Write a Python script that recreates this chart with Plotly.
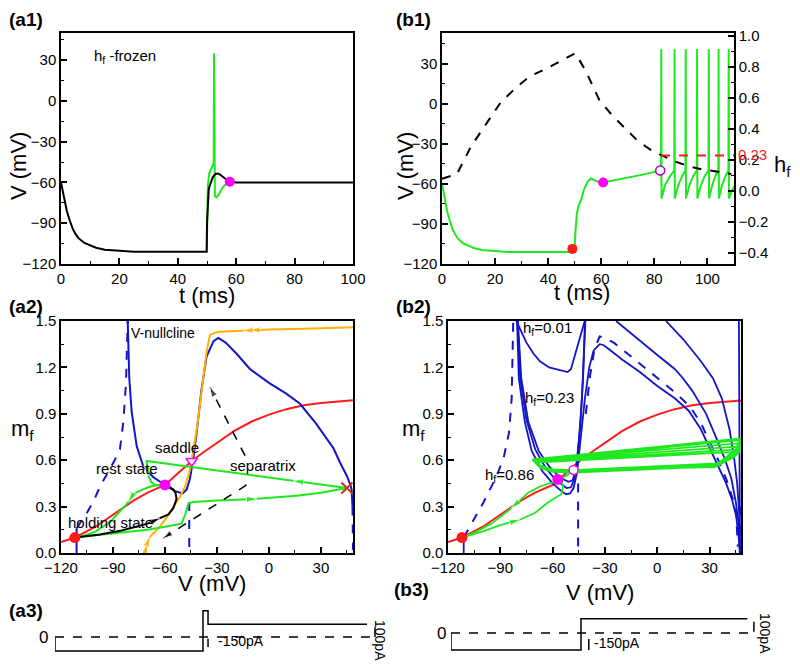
import plotly.graph_objects as go

# ---------------- data ----------------
# (a1) hf-frozen, V (mV) vs t (ms)
a1_t_black = [0, 1, 2, 3, 4, 5, 6, 8, 10, 12, 15, 20, 25, 30, 40, 49.9, 50, 50.3, 50.6, 51, 52,
              53, 54, 55, 56, 57, 58, 60, 65, 100]
a1_v_black = [-60, -72, -81, -88, -94, -98, -101, -104.5, -106.5, -108, -109.5, -110.5, -111, -111,
              -111, -111, -90, -70, -65, -62, -56, -53.5, -53.5, -55, -57, -58.5, -59.5, -60, -60, -60]
a1_t_green = [49.9, 50, 50.3, 50.8, 51.5, 52, 52.3, 52.4, 52.5, 52.7, 53.2, 54, 55, 56, 57, 58]
a1_v_green = [-111, -90, -62, -53, -50, -48, -46, 35, -20, -70, -71, -69, -65, -62, -60.5, -60]
a1_rest = (57.8, -59.5)

# (b1) V (mV) and hf vs t (ms)
b1_t = [0, 1, 2, 3, 4, 5, 6, 8, 10, 12, 15, 20, 25, 30, 40, 49.9, 50.3, 50.8, 51.5, 52.4, 53.5,
        54.9, 56.1, 57.5, 58.6, 60.7, 66, 71.7, 77, 82.2,
        82.5, 82.6, 82.7, 84, 86, 87.5,
        87.6, 87.7, 89, 90.5, 91.7,
        91.8, 91.9, 93.2, 94.6, 96.0,
        96.1, 96.2, 97.5, 99, 100.4,
        100.5, 100.6, 101.8, 103, 104.1,
        104.2, 104.3, 105.5, 106.8, 107.9,
        108.0, 108.1, 109, 110]
b1_v = [-60, -72, -81, -88, -94, -98, -101, -104.5, -106.5, -108, -109.5, -110.5, -111, -111, -111,
        -111, -95, -82, -76, -72, -64, -58.3, -56, -57, -58.3, -59, -57, -54.5, -52.5, -50,
        -50, 41, -71, -61, -54, -50,
        41, -71, -61, -54, -50,
        41, -71, -61, -54, -50,
        41, -71, -61, -54, -50,
        41, -71, -61, -54, -50,
        41, -71, -61, -54, -50,
        41, -71, -66, -62]
b1_t_hf = [0, 5.6, 11, 17.4, 22, 28, 33, 39.3, 46.7, 50.2, 54, 59.2, 64, 69.2, 74, 79.2, 84, 88,
           93, 98, 104, 109]
b1_hf = [0.08, 0.11, 0.29, 0.45, 0.57, 0.67, 0.74, 0.79, 0.86, 0.89, 0.78, 0.59, 0.49, 0.40, 0.32,
         0.26, 0.22, 0.19, 0.16, 0.14, 0.125, 0.11]
b1_hf_thr_t = [82.5, 110]
b1_hf_thr = 0.23
b1_hold = (49.1, -108.7)
b1_rest = (60.7, -59)
b1_onset = (82.2, -50)

# (a2) phase plane, mf vs V (mV)
a2_vnull_v = [-81.5, -80.6, -79.2, -76.3, -72.5, -66.7, -60, -54.2, -49.8, -47.5, -45.6, -43.5,
              -41.5, -39, -36, -32, -29.2, -25, -18, -11, 0, 10, 17.9, 27, 33.3, 37.1, 41, 44.9,
              47, 47.7, 48.2]
a2_vnull_m = [1.5, 1.13, 0.91, 0.69, 0.56, 0.49, 0.44, 0.40, 0.385, 0.41, 0.48, 0.62, 0.8, 1.05,
              1.27, 1.37, 1.39, 1.36, 1.28, 1.19, 1.10, 1.03, 0.965, 0.84, 0.74, 0.68, 0.585, 0.5,
              0.44, 0.41, 0.3]
a2_vnull_dl_v = [-111, -108, -105, -101, -97.5, -93, -89, -86, -84, -82.5, -81.5]
a2_vnull_dl_m = [0.16, 0.21, 0.26, 0.34, 0.43, 0.52, 0.6, 0.67, 0.85, 1.1, 1.5]
a2_vnull_sl_v = [-111, -111]
a2_vnull_sl_m = [0, 0.16]
a2_vnull_dm_v = [-46, -46]
a2_vnull_dm_m = [0.33, 0.0]
a2_vnull_dr_v = [48.2, 48.4, 48.5]
a2_vnull_dr_m = [0.3, 0.15, 0.02]

mnull_v = [-120, -112, -100, -88, -78, -70, -60, -52, -44, -38, -30, -20, -10, 0, 10, 20, 30, 40,
           48.5]
mnull_m = [0.07, 0.1, 0.17, 0.26, 0.34, 0.39, 0.44, 0.52, 0.6, 0.65, 0.71, 0.79, 0.85, 0.895,
           0.93, 0.955, 0.97, 0.98, 0.987]

a2_sep_v = [-71.5, -70.3, -68.6, -62.9, -59, -55.2, -51.5, -48.4, -46, -44.6, -43, -41.7, -39.8,
            -37.9, -36, -34, -31, -28.3, -20, -15, -11, 0, 20, 48.5]
a2_sep_m = [0, 0.06, 0.105, 0.17, 0.23, 0.30, 0.36, 0.43, 0.52, 0.595, 0.70, 0.80, 0.96, 1.13,
            1.30, 1.41, 1.425, 1.43, 1.435, 1.437, 1.44, 1.445, 1.45, 1.46]

a2_g1_v = [-112, -100, -85, -70, -60, -52, -50.4, -48, -46.5, -43.7, -30, -7, 16, 30, 44.9]
a2_g1_m = [0.1, 0.115, 0.13, 0.15, 0.17, 0.185, 0.19, 0.26, 0.32, 0.33, 0.34, 0.35, 0.37, 0.39, 0.42]
a2_g2_v = [44.9, 14, -20, -50, -70.6, -69.6, -68, -65.8, -62, -60]
a2_g2_m = [0.42, 0.467, 0.52, 0.565, 0.595, 0.50, 0.46, 0.44, 0.435, 0.44]
a2_g3_v = [-60, -64, -68.6, -73, -78.3, -81, -86, -91.7, -100, -107, -112]
a2_g3_m = [0.44, 0.44, 0.43, 0.41, 0.38, 0.33, 0.27, 0.2, 0.14, 0.11, 0.1]
a2_blk_v = [-112, -97.5, -85, -78, -70, -62.9, -58, -55.2, -53.3, -54, -55.2, -58, -60]
a2_blk_m = [0.1, 0.12, 0.145, 0.165, 0.19, 0.225, 0.25, 0.29, 0.35, 0.39, 0.41, 0.43, 0.44]
a2_dash_arrow1_v = [-13.8, -34]
a2_dash_arrow1_m = [0.63, 1.07]
a2_dash_arrow2_v = [-12.9, -61]
a2_dash_arrow2_m = [0.44, 0.096]
a2_hold = (-112, 0.1)
a2_rest = (-60, 0.44)
a2_saddle = (-44.6, 0.595)
a2_unstable = (45, 0.42)

# (b2) nullclines for several hf, mf vs V (mV)
b2_dash_v = [-41, -38.5, -36, -33, -30, -25, -15, 0, 10, 18.5, 25, 30, 35, 39.5, 43, 45.2, 46.2]
b2_dash_m = [0.9, 1.15, 1.32, 1.40, 1.39, 1.36, 1.27, 1.13, 1.04, 0.95, 0.84, 0.72, 0.6, 0.48,
             0.36, 0.26, 0.04]
b2_h086_v = [-80.4, -79.4, -76, -72, -66, -60, -55, -52.3, -50, -48, -46, -44, -41.5, -39, -36.5,
             -33, -31, -28, -20, -10, 0, 10, 18, 25, 30, 35, 39.5, 43, 45.2, 46.5, 47.5]
b2_h086_m = [1.5, 1.13, 0.85, 0.66, 0.53, 0.45, 0.40, 0.38, 0.385, 0.42, 0.52, 0.72, 1.0, 1.2,
             1.31, 1.35, 1.345, 1.32, 1.25, 1.17, 1.08, 1.0, 0.92, 0.8, 0.68, 0.56, 0.45, 0.34,
             0.24, 0.12, 0.0]
b2_hmid_v = [-80.2, -78.6, -75, -70, -64, -58, -52, -49.5, -47.5, -45.8, -44, -42.5, -41.5]
b2_hmid_m = [1.5, 1.13, 0.86, 0.67, 0.55, 0.47, 0.42, 0.425, 0.48, 0.62, 0.85, 1.15, 1.5]
b2_hmid_r_v = [46.8, 47, 47.2, 47.4]
b2_hmid_r_m = [1.5, 1.0, 0.5, 0.0]
b2_h023_v = [-79.9, -78, -74, -68, -62, -56, -51, -48.5, -46.5, -44.8, -43.2, -42, -41.2]
b2_h023_m = [1.5, 1.13, 0.85, 0.66, 0.56, 0.49, 0.46, 0.47, 0.55, 0.75, 1.0, 1.25, 1.5]
b2_h023_r_v = [-23.6, -10, 0, 10, 14.7, 20, 28, 34, 39, 42.5, 45, 46.5, 47.3]
b2_h023_r_m = [1.5, 1.37, 1.28, 1.19, 1.13, 1.05, 0.9, 0.74, 0.6, 0.48, 0.33, 0.2, 0.0]
b2_h001_v = [-80.8, -78, -75, -71, -67.3, -62, -56, -51.4, -49.5, -48.3, -46.5, -44.4, -41.6]
b2_h001_m = [1.5, 1.43, 1.36, 1.29, 1.24, 1.2, 1.185, 1.17, 1.19, 1.24, 1.3, 1.39, 1.5]
b2_h001_r_v = [5, 15, 25, 31.9, 37, 41.4, 44, 45.8, 47, 47.5]
b2_h001_r_m = [1.5, 1.38, 1.24, 1.13, 1.0, 0.8, 0.62, 0.45, 0.25, 0.0]
b2_dl_v = [-111, -108, -104, -100, -96, -92, -88, -85, -83.5, -82.6]
b2_dl_m = [0.1, 0.16, 0.24, 0.32, 0.41, 0.5, 0.62, 0.78, 1.0, 1.5]
b2_dm_v = [-45.4, -45.4]
b2_dm_m = [0.45, 0.03]
b2_dr_v = [47.8, 48]
b2_dr_m = [0.3, 0.0]

b2_low_v = [-112, -100, -90, -78.8, -70, -63.5, -58, -55, -54, -55, -57]
b2_low_m = [0.1, 0.14, 0.18, 0.215, 0.26, 0.32, 0.36, 0.38, 0.43, 0.46, 0.476]
b2_back_v = [-57, -62, -67.3, -74, -83.6, -95, -105, -112]
b2_back_m = [0.46, 0.45, 0.43, 0.39, 0.29, 0.19, 0.13, 0.1]
b2_spk_v = [-57, -52, -48, 33, 44, 47.5, -70, -67, -60, -48, 33, 44, 47.5, -70.5, -67, -60, -48,
            34, 44, 47.5, -71, -67, -60, -48, 34, 45, 47.5, -71, -67, -60, -48, 34, 45, 47.5,
            -71.5, -67, -60, -48, 35, 45, 47.5, -71.5, -68]
b2_spk_m = [0.476, 0.5, 0.537, 0.555, 0.62, 0.655, 0.585, 0.55, 0.525, 0.52, 0.56, 0.63, 0.67,
            0.59, 0.555, 0.53, 0.525, 0.565, 0.64, 0.69, 0.595, 0.56, 0.535, 0.53, 0.57, 0.65,
            0.71, 0.6, 0.565, 0.54, 0.535, 0.575, 0.66, 0.73, 0.6, 0.565, 0.54, 0.535, 0.58,
            0.67, 0.74, 0.605, 0.57]
b2_hold = (-112, 0.1)
b2_rest = (-57, 0.476)
b2_onset = (-48, 0.537)

# (a3)/(b3) stimulus protocols, I (pA) vs t (ms)
a3_t = [0, 0, 50, 50, 51.7, 51.7, 105.4]
a3_i = [0, -150, -150, 280, 280, 135, 135]
b3_t = [0, 0, 50, 50, 114]
b3_i = [0, -150, -150, 125, 125]

# ---------------- styles ----------------
GREEN = '#1fe81f'
BLUE = '#1414c8'
RED = '#ff1a1a'
ORANGE = '#ffb000'
MAGENTA = '#ff00ff'
FONT = 'Liberation Sans, Arial, sans-serif'

fig = go.Figure()


def line(x, y, xa, ya, color, width=2, dash=None):
    fig.add_trace(go.Scatter(x=x, y=y, xaxis=xa, yaxis=ya, mode='lines',
                             line=dict(color=color, width=width, dash=dash),
                             showlegend=False, hoverinfo='skip'))


def dot(pt, xa, ya, color, size=11, symbol='circle', lw=0, lc=None):
    fig.add_trace(go.Scatter(x=[pt[0]], y=[pt[1]], xaxis=xa, yaxis=ya, mode='markers',
                             marker=dict(color=color, size=size, symbol=symbol,
                                         line=dict(color=lc or color, width=lw)),
                             showlegend=False, hoverinfo='skip'))


def arrow(xs, ys, i, xa, ya, color, size=11):
    # arrow head on point i, pointing away from point i-1
    fig.add_trace(go.Scatter(x=[xs[i - 1], xs[i]], y=[ys[i - 1], ys[i]], xaxis=xa, yaxis=ya,
                             mode='markers',
                             marker=dict(symbol='arrow', size=[0, size], angleref='previous',
                                         color=color),
                             showlegend=False, hoverinfo='skip'))


# (a1)
line(a1_t_green, a1_v_green, 'x', 'y', GREEN)
line(a1_t_black, a1_v_black, 'x', 'y', 'black')
dot(a1_rest, 'x', 'y', MAGENTA, 10)

# (b1)
line(b1_t_hf, b1_hf, 'x2', 'y3', 'black', 2, 'dash')
line(b1_hf_thr_t, [b1_hf_thr] * 2, 'x2', 'y3', RED, 2, 'dash')
line(b1_t, b1_v, 'x2', 'y2', GREEN)
dot(b1_hold, 'x2', 'y2', RED, 10)
dot(b1_rest, 'x2', 'y2', MAGENTA, 10)
dot(b1_onset, 'x2', 'y2', 'white', 9, 'circle', 1.5, '#b000c0')

# (a2)
line(mnull_v, mnull_m, 'x3', 'y4', RED)
line(a2_vnull_v, a2_vnull_m, 'x3', 'y4', BLUE)
line(a2_vnull_sl_v, a2_vnull_sl_m, 'x3', 'y4', BLUE)
line(a2_vnull_dl_v, a2_vnull_dl_m, 'x3', 'y4', BLUE, 2, 'dash')
line(a2_vnull_dm_v, a2_vnull_dm_m, 'x3', 'y4', BLUE, 2, 'dash')
line(a2_vnull_dr_v, a2_vnull_dr_m, 'x3', 'y4', BLUE, 2, 'dash')
line(a2_sep_v, a2_sep_m, 'x3', 'y4', ORANGE)
line(a2_g1_v, a2_g1_m, 'x3', 'y4', GREEN)
line(a2_g2_v, a2_g2_m, 'x3', 'y4', GREEN)
line(a2_g3_v, a2_g3_m, 'x3', 'y4', GREEN)
line(a2_blk_v, a2_blk_m, 'x3', 'y4', 'black')
for av, am in [(a2_dash_arrow1_v, a2_dash_arrow1_m), (a2_dash_arrow2_v, a2_dash_arrow2_m)]:
    line(av, am, 'x3', 'y4', 'black', 1.5, 'dash')
    arrow(av, am, 1, 'x3', 'y4', 'black', 10)
arrow(a2_g1_v, a2_g1_m, 11, 'x3', 'y4', GREEN)
arrow(a2_g2_v, a2_g2_m, 1, 'x3', 'y4', GREEN)
arrow(a2_g2_v, a2_g2_m, 5, 'x3', 'y4', GREEN)
arrow(a2_g3_v, a2_g3_m, 5, 'x3', 'y4', GREEN)
arrow(a2_blk_v, a2_blk_m, 5, 'x3', 'y4', 'black')
arrow(a2_sep_v, a2_sep_m, 1, 'x3', 'y4', ORANGE)
arrow(a2_sep_v, a2_sep_m, 2, 'x3', 'y4', ORANGE)
rev_v, rev_m = a2_sep_v[::-1], a2_sep_m[::-1]
arrow(rev_v, rev_m, 3, 'x3', 'y4', ORANGE)
arrow(rev_v, rev_m, 4, 'x3', 'y4', ORANGE)
dot(a2_hold, 'x3', 'y4', RED, 11)
dot(a2_rest, 'x3', 'y4', MAGENTA, 11)
dot(a2_saddle, 'x3', 'y4', 'white', 10, 'triangle-down', 1.5, MAGENTA)
dot(a2_unstable, 'x3', 'y4', '#d0301a', 11, 'x-thin', 2)

# (b2)
line(mnull_v, mnull_m, 'x4', 'y5', RED)
for bv, bm in [(b2_h086_v, b2_h086_m), (b2_hmid_v, b2_hmid_m), (b2_hmid_r_v, b2_hmid_r_m),
               (b2_h023_v, b2_h023_m), (b2_h023_r_v, b2_h023_r_m), (b2_h001_v, b2_h001_m),
               (b2_h001_r_v, b2_h001_r_m), (a2_vnull_sl_v, [0, 0.1])]:
    line(bv, bm, 'x4', 'y5', BLUE, 1.8)
for bv, bm in [(b2_dash_v, b2_dash_m), (b2_dl_v, b2_dl_m), (b2_dm_v, b2_dm_m), (b2_dr_v, b2_dr_m)]:
    line(bv, bm, 'x4', 'y5', BLUE, 2, 'dash')
line(b2_spk_v, b2_spk_m, 'x4', 'y5', GREEN, 1.8)
line(b2_low_v, b2_low_m, 'x4', 'y5', GREEN, 1.8)
line(b2_back_v, b2_back_m, 'x4', 'y5', GREEN, 1.8)
arrow(b2_low_v, b2_low_m, 3, 'x4', 'y5', GREEN)
arrow(b2_back_v, b2_back_m, 4, 'x4', 'y5', GREEN)
dot(b2_hold, 'x4', 'y5', RED, 11)
dot(b2_rest, 'x4', 'y5', MAGENTA, 11)
dot(b2_onset, 'x4', 'y5', 'white', 9, 'circle', 1.5, MAGENTA)

# (a3), (b3)
line(a3_t, a3_i, 'x5', 'y6', 'black', 1.5)
line([0, 107], [0, 0], 'x5', 'y6', 'black', 1.5, 'dash')
line([108.1, 108.1], [0, 105], 'x5', 'y6', 'black', 1.5)
line([51.7, 51.7], [-20, -107], 'x5', 'y6', 'black', 1.5)
line(b3_t, b3_i, 'x6', 'y7', 'black', 1.5)
line([0, 115.5], [0, 0], 'x6', 'y7', 'black', 1.5, 'dash')
line([116.5, 116.5], [10, 100], 'x6', 'y7', 'black', 1.5)
line([53, 53], [-53, -150], 'x6', 'y7', 'black', 1.5)

# ---------------- layout ----------------
axis = dict(showline=True, linecolor='black', linewidth=1.5, mirror=True, ticks='inside',
            ticklen=6, tickwidth=1.5, tickcolor='black', showgrid=False, zeroline=False,
            automargin=False, tickfont=dict(size=15, color='black', family=FONT),
            minor=dict(ticks='inside', ticklen=3, tickwidth=1.2, tickcolor='black'))
hidden = dict(visible=False, showgrid=False, zeroline=False, automargin=False)


def px(x):
    return x / 800


def py(y):
    return 1 - y / 671


top_dom = [py(264), py(33)]
mid_dom = [py(553), py(321)]

fig.update_layout(
    width=800, height=671, margin=dict(l=0, r=0, t=0, b=0, autoexpand=False),
    paper_bgcolor='white', plot_bgcolor='white', showlegend=False,
    font=dict(family=FONT, color='black'),
    xaxis=dict(axis, domain=[px(61), px(353)], range=[0, 100], dtick=20, anchor='y',
               minor=dict(axis['minor'], dtick=10)),
    yaxis=dict(axis, domain=top_dom, range=[-120, 50], dtick=30, anchor='x',
               minor=dict(axis['minor'], dtick=15)),
    xaxis2=dict(axis, domain=[px(442), px(734)], range=[0, 110], dtick=20, anchor='y2',
                minor=dict(axis['minor'], dtick=10)),
    yaxis2=dict(axis, domain=top_dom, range=[-120, 53], dtick=30, anchor='x2', mirror=False,
                minor=dict(axis['minor'], dtick=15)),
    yaxis3=dict(axis, overlaying='y2', side='right', anchor='x2', range=[-0.47, 1.02],
                dtick=0.2, tickformat='.1f', mirror=False,
                minor=dict(axis['minor'], dtick=0.1)),
    xaxis3=dict(axis, domain=[px(61), px(353)], range=[-120, 48.5], dtick=30, anchor='y4',
                minor=dict(axis['minor'], dtick=15)),
    yaxis4=dict(axis, domain=mid_dom, range=[0, 1.5], dtick=0.3, tickformat='.1f', anchor='x3',
                minor=dict(axis['minor'], dtick=0.15)),
    xaxis4=dict(axis, domain=[px(448), px(741)], range=[-120, 48], dtick=30, anchor='y5',
                minor=dict(axis['minor'], dtick=15)),
    yaxis5=dict(axis, domain=mid_dom, range=[0, 1.5], dtick=0.3, tickformat='.1f', anchor='x4',
                minor=dict(axis['minor'], dtick=0.15)),
    xaxis5=dict(hidden, domain=[px(55), px(55 + 112 * 2.96)], range=[0, 112], anchor='y6'),
    yaxis6=dict(hidden, domain=[py(660.3), py(604.3)], range=[-250, 350], anchor='x5'),
    xaxis6=dict(hidden, domain=[px(451), px(451 + 118 * 2.6)], range=[0, 118], anchor='y7'),
    yaxis7=dict(hidden, domain=[py(661.3), py(593.3)], range=[-250, 350], anchor='x6'),
)

ann = []


def text(s, x, y, size=15, angle=0, color='black', ref=('paper', 'paper')):
    ann.append(dict(text=s, x=x, y=y, xref=ref[0], yref=ref[1], showarrow=False,
                    textangle=angle, font=dict(size=size, color=color, family=FONT),
                    xanchor='center', yanchor='middle'))


# panel labels
for lab, x, y in [('(a1)', 26, 19), ('(b1)', 413, 19), ('(a2)', 26, 306), ('(b2)', 413, 306),
                  ('(a3)', 26, 610), ('(b3)', 411, 589)]:
    text('<b>%s</b>' % lab, px(x), py(y), 19)
# axis titles
text('V (mV)', px(18), py(166), 22, -90)
text('V (mV)', px(405), py(166), 22, -90)
text('t (ms)', px(207), py(295), 22)
text('t (ms)', px(582), py(293), 22)
text('h<sub>f</sub>', px(782), py(166), 22)
text('m<sub>f</sub>', px(22), py(430), 22)
text('m<sub>f</sub>', px(413), py(430), 22)
text('V (mV)', px(212), py(583), 22)
text('V (mV)', px(600), py(592), 22)
# in-panel text
text('h<sub>f</sub> -frozen', 22, 33, 15, ref=('x', 'y'))
text('0.23', px(752), py(154), 15, color=RED)
text('V-nullcline', -61, 1.42, 14, ref=('x3', 'y4'))
text('saddle', -53.3, 0.68, 15, ref=('x3', 'y4'))
text('rest state', -82, 0.545, 15, ref=('x3', 'y4'))
text('holding state', -91.5, 0.195, 15, ref=('x3', 'y4'))
text('separatrix', -3.3, 0.565, 15, ref=('x3', 'y4'))
text('h<sub>f</sub>=0.01', -62.7, 1.45, 15, ref=('x4', 'y5'))
text('h<sub>f</sub>=0.23', -61.6, 1.0, 15, ref=('x4', 'y5'))
text('h<sub>f</sub>=0.86', -84.5, 0.5, 15, ref=('x4', 'y5'))
# stimulus labels
text('0', px(43), py(637), 17)
text('0', px(441), py(633), 17)
text('-150pA', 63, -45, 14, ref=('x5', 'y6'))
text('-150pA', 64, -88, 14, ref=('x6', 'y7'))
text('100pA', px(380), py(640), 14, 90)
text('100pA', px(765), py(633), 14, 90)
fig.update_layout(annotations=ann)

# the page body has a default 8px margin; drop it so the figure sits at the window corner
fig.write_html('out.html', config={'displayModeBar': False},
               post_script="document.body.style.margin='0';")
